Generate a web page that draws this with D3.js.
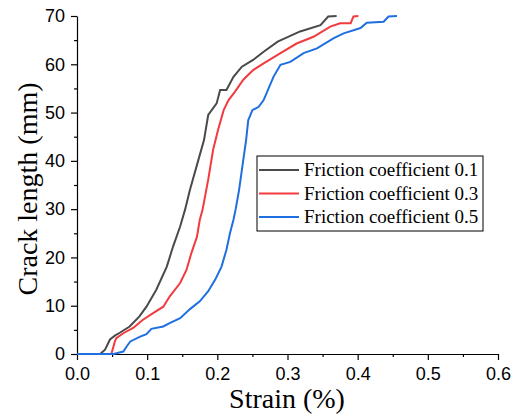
<!DOCTYPE html>
<html>
<head>
<meta charset="utf-8">
<script src="https://cdn.jsdelivr.net/npm/d3@7"></script>
<style>
  html, body { margin: 0; padding: 0; background: #fff; }
  svg { display: block; }
</style>
</head>
<body>
<svg id="chart"></svg>
<script>
// ── data (strain %, crack length mm) ─────────────────────
const seriesNames = ['Friction coefficient 0.1', 'Friction coefficient 0.3', 'Friction coefficient 0.5'];
const seriesColors = ['#4a4a4a', '#f23a3f', '#1f6fe0'];

const strain01 = [0, 0.033, 0.040, 0.047, 0.054, 0.061, 0.075, 0.089, 0.099, 0.113, 0.128, 0.137, 0.147, 0.154,
  0.161, 0.173, 0.181, 0.187, 0.199, 0.204, 0.213, 0.223, 0.235, 0.251, 0.266, 0.286, 0.318, 0.347, 0.358, 0.370];
const crack01 = [0, 0, 0.9, 3.0, 3.8, 4.4, 5.7, 7.8, 9.8, 13.3, 18.1, 22.3, 26.4, 29.9,
  34.0, 40.2, 44.3, 49.5, 51.9, 54.7, 54.7, 57.4, 59.5, 60.9, 62.6, 64.7, 66.8, 68.1, 69.9, 70];

const strain03 = [0, 0.049, 0.054, 0.056, 0.066, 0.080, 0.094, 0.109, 0.123, 0.132, 0.147, 0.156, 0.163, 0.171,
  0.175, 0.179, 0.187, 0.194, 0.201, 0.209, 0.216, 0.225, 0.237, 0.251, 0.266, 0.290, 0.313, 0.337, 0.361,
  0.375, 0.390, 0.394, 0.401];
const crack03 = [0, 0, 2.6, 3.3, 4.3, 5.4, 7.1, 8.5, 9.8, 11.9, 14.7, 17.4, 20.9, 24.3,
  27.8, 29.9, 36.1, 42.3, 46.4, 50.5, 52.6, 54.3, 56.8, 58.8, 60.2, 62.3, 64.3, 65.7, 67.8,
  68.5, 68.5, 69.9, 70];

const strain05 = [0, 0.052, 0.066, 0.071, 0.076, 0.090, 0.099, 0.106, 0.123, 0.132, 0.147, 0.161, 0.175, 0.187,
  0.197, 0.206, 0.213, 0.218, 0.223, 0.226, 0.231, 0.237, 0.241, 0.244, 0.250, 0.259, 0.266, 0.280, 0.290,
  0.304, 0.323, 0.342, 0.366, 0.380, 0.404, 0.413, 0.437, 0.444, 0.456];
const crack05 = [0, 0, 0.5, 1.6, 2.6, 3.6, 4.1, 5.2, 5.7, 6.4, 7.4, 9.3, 10.9, 13.0,
  15.4, 18.1, 21.6, 25.0, 27.8, 29.9, 34.0, 40.2, 44.3, 48.4, 50.5, 51.2, 52.6, 57.4, 59.9,
  60.5, 62.3, 63.3, 65.4, 66.4, 67.5, 68.6, 68.8, 69.9, 70];

const xTicks = [0, 0.1, 0.2, 0.3, 0.4, 0.5, 0.6];
const yTicks = [0, 10, 20, 30, 40, 50, 60, 70];

// ── layout ───────────────────────────────────────────────
const W = 521, H = 418;
const m = { left: 77, right: 23, top: 16, bottom: 64 };

const svg = d3.select('#chart').attr('width', W).attr('height', H);

const x = d3.scaleLinear().domain([0, 0.6]).range([m.left, W - m.right]);
const y = d3.scaleLinear().domain([0, 70]).range([H - m.bottom, m.top]);

const sansFont = '"Liberation Sans", Arial, sans-serif';
const serifFont = '"Liberation Serif", "Times New Roman", serif';

// minor ticks
svg.append('g')
  .attr('transform', `translate(0,${y(0)})`)
  .call(d3.axisBottom(x).tickValues(d3.range(0.05, 0.6, 0.1)).tickSize(3).tickFormat(''))
  .call(g => g.select('.domain').remove());
svg.append('g')
  .attr('transform', `translate(${x(0)},0)`)
  .call(d3.axisLeft(y).tickValues(d3.range(5, 70, 10)).tickSize(3).tickFormat(''))
  .call(g => g.select('.domain').remove());

// major axes
const xAxis = svg.append('g')
  .attr('transform', `translate(0,${y(0)})`)
  .call(d3.axisBottom(x).tickValues(xTicks).tickSize(6).tickSizeOuter(0).tickPadding(7).tickFormat(d3.format('.1f')));
const yAxis = svg.append('g')
  .attr('transform', `translate(${x(0)},0)`)
  .call(d3.axisLeft(y).tickValues(yTicks).tickSize(6).tickSizeOuter(0).tickPadding(6));

[xAxis, yAxis].forEach(a => {
  a.selectAll('text').attr('font-family', sansFont).attr('font-size', 18).attr('fill', '#000');
  a.selectAll('line, path').attr('stroke', '#000').attr('stroke-width', 1.2);
});
svg.selectAll('.tick line').attr('stroke', '#000').attr('stroke-width', 1.2);

// lines
const line = d3.line().x(d => x(d[0])).y(d => y(d[1]));
const series = [
  d3.zip(strain01, crack01),
  d3.zip(strain03, crack03),
  d3.zip(strain05, crack05),
];
series.forEach((pts, i) => {
  svg.append('path')
    .datum(pts)
    .attr('d', line)
    .attr('fill', 'none')
    .attr('stroke', seriesColors[i])
    .attr('stroke-width', 2)
    .attr('stroke-linejoin', 'miter');
});

// axis titles
svg.append('text')
  .attr('x', (x(0) + x(0.6)) / 2 - 0.5)
  .attr('y', 408)
  .attr('text-anchor', 'middle')
  .attr('font-family', serifFont)
  .attr('font-size', 28)
  .text('Strain (%)');

svg.append('text')
  .attr('transform', `translate(37,${y(35) + 4}) rotate(-90)`)
  .attr('text-anchor', 'middle')
  .attr('font-family', serifFont)
  .attr('font-size', 28)
  .text('Crack length (mm)');

// legend
const lg = svg.append('g').attr('transform', 'translate(257,156)');
lg.append('rect')
  .attr('width', 226).attr('height', 75)
  .attr('fill', '#fff').attr('stroke', '#000').attr('stroke-width', 1);
seriesNames.forEach((name, i) => {
  const yy = 14 + i * 23.5;
  lg.append('line')
    .attr('x1', 2).attr('x2', 42).attr('y1', yy).attr('y2', yy)
    .attr('stroke', seriesColors[i]).attr('stroke-width', 2);
  lg.append('text')
    .attr('x', 47).attr('y', yy + 6)
    .attr('font-family', serifFont)
    .attr('font-size', 19)
    .text(name);
});
</script>
</body>
</html>
